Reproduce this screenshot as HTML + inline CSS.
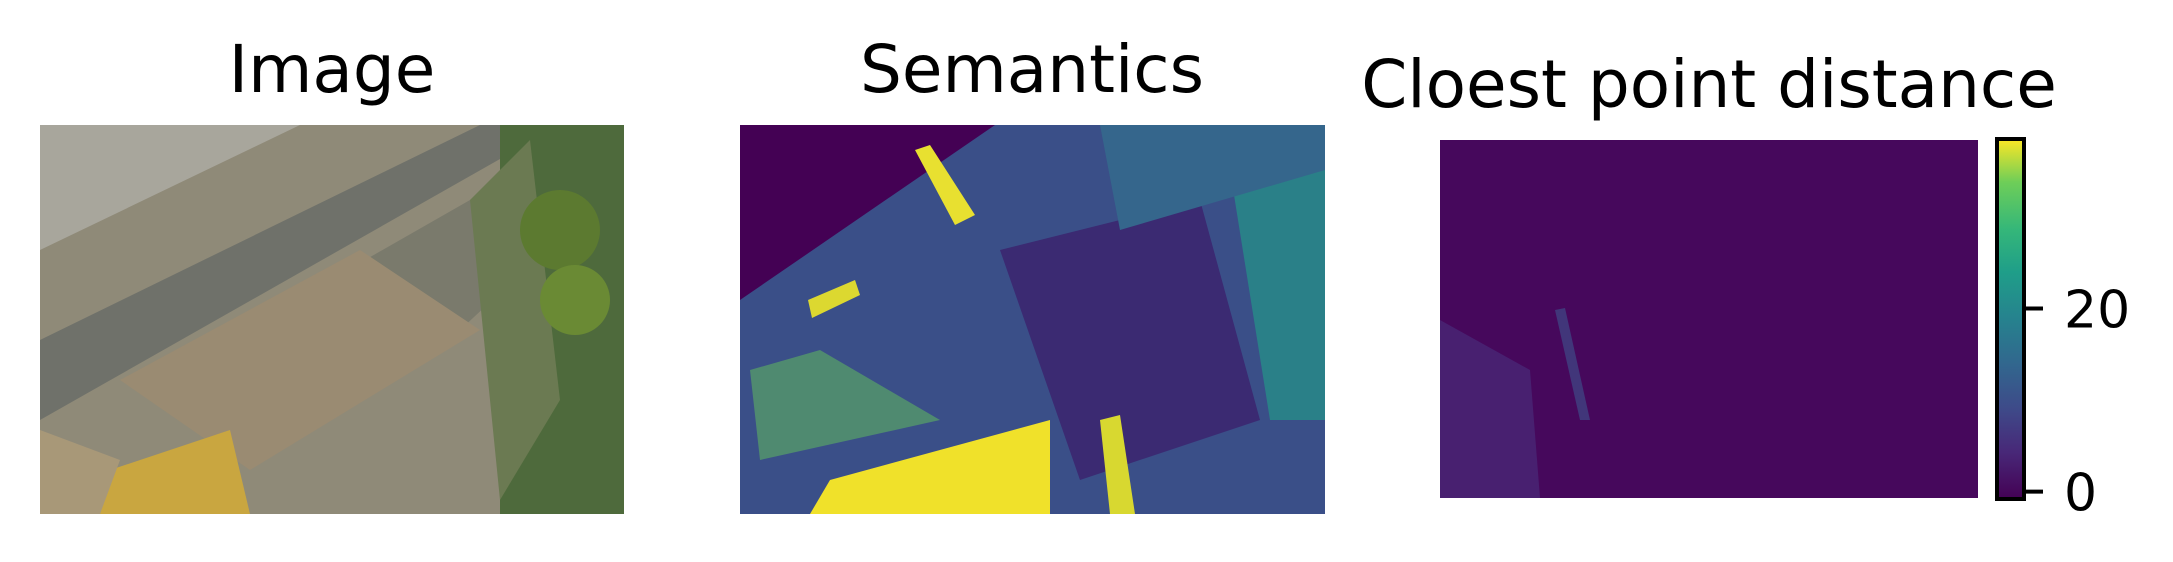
<!DOCTYPE html>
<html><head><meta charset="utf-8">
<style>
html,body{margin:0;padding:0;background:#fff;}
body{width:2173px;height:562px;position:relative;overflow:hidden;font-family:"Liberation Sans","DejaVu Sans",sans-serif;}
</style></head><body>
<svg width="2173" height="562" style="position:absolute;left:0;top:0">
<defs>
<linearGradient id="vir" x1="0" y1="1" x2="0" y2="0">
<stop offset="0" stop-color="#440154"/><stop offset="0.13" stop-color="#482878"/><stop offset="0.25" stop-color="#3e4a89"/><stop offset="0.38" stop-color="#31688e"/><stop offset="0.5" stop-color="#26828e"/><stop offset="0.63" stop-color="#1f9e89"/><stop offset="0.75" stop-color="#35b779"/><stop offset="0.88" stop-color="#6ece58"/><stop offset="1" stop-color="#fde725"/>
</linearGradient>
<clipPath id="c1"><rect x="40" y="125" width="584" height="389"/></clipPath>
<clipPath id="c2"><rect x="740" y="125" width="585" height="389"/></clipPath>
</defs>
<text x="332" y="92" text-anchor="middle" font-size="66" font-family="DejaVu Sans, Liberation Sans, sans-serif">Image</text>
<text x="1032" y="92" text-anchor="middle" font-size="66" font-family="DejaVu Sans, Liberation Sans, sans-serif">Semantics</text>
<text x="1709" y="107" text-anchor="middle" font-size="66" font-family="DejaVu Sans, Liberation Sans, sans-serif">Cloest point distance</text>
<g clip-path="url(#c1)">
<rect x="40" y="125" width="584" height="389" fill="#8f8a78"/>
<polygon points="40,125 300,125 40,250" fill="#a8a69c"/>
<polygon points="40,340 480,125 560,125 40,420" fill="#6f716a"/>
<polygon points="330,280 540,160 600,200 460,330" fill="#7a7a6c"/>
<polygon points="120,380 360,250 480,330 250,470" fill="#9a8b72"/>
<rect x="500" y="125" width="124" height="389" fill="#4e6a3c"/>
<polygon points="470,200 530,140 560,400 500,500" fill="#6b7a52"/>
<circle cx="560" cy="230" r="40" fill="#5c7a30"/>
<circle cx="575" cy="300" r="35" fill="#6a8a34"/>
<polygon points="100,514 110,470 230,430 250,514" fill="#c9a640"/>
<polygon points="40,514 40,430 120,460 100,514" fill="#a89878"/>
</g>
<g clip-path="url(#c2)">
<rect x="740" y="125" width="585" height="389" fill="#3a4f88"/>
<polygon points="740,125 995,125 740,300" fill="#440154"/>
<polygon points="1000,250 1200,200 1260,420 1080,480" fill="#3b2a72"/>
<polygon points="1230,170 1325,130 1325,420 1270,420" fill="#2a8088"/>
<polygon points="1100,125 1325,125 1325,170 1120,230" fill="#35668c"/>
<polygon points="915,150 930,145 975,215 955,225" fill="#e8e030"/>
<polygon points="808,300 855,280 860,295 812,318" fill="#dcd830"/>
<polygon points="810,514 830,480 1050,420 1050,514" fill="#f0e12a"/>
<polygon points="1100,420 1120,415 1135,514 1110,514" fill="#d8d830"/>
<polygon points="750,370 820,350 940,420 760,460" fill="#4f8a70"/>
</g>
<g>
<rect x="1440" y="140" width="538" height="358" fill="#46085c"/>
<polygon points="1440,320 1530,370 1540,498 1440,498" fill="#482070"/>
<polygon points="1555,310 1565,308 1590,420 1580,420" fill="#3f4a88" opacity="0.7"/>
</g>
<g id="cbar">
<rect x="1997" y="139" width="27" height="360" fill="url(#vir)" stroke="#000" stroke-width="4"/>
</g>
<g id="cticks"></g>
</svg>
<script>
const tickValues=[0,20];
const tickLabels=["0","20"];
const cmin=-0.8, cmax=38.5;
const y0=499, y1=139;
function yScale(v){return y0-(v-cmin)/(cmax-cmin)*(y0-y1);}
const g=document.getElementById('cticks');
const ns="http://www.w3.org/2000/svg";
tickValues.forEach((v,i)=>{
  const y=yScale(v);
  const l=document.createElementNS(ns,'line');
  l.setAttribute('x1',2026);l.setAttribute('x2',2043);l.setAttribute('y1',y);l.setAttribute('y2',y);
  l.setAttribute('stroke','#000');l.setAttribute('stroke-width','4');
  
  
  g.appendChild(l);
  const t=document.createElementNS(ns,'text');
  t.setAttribute('x',2064);t.setAttribute('y',y+19);
  t.setAttribute('font-size','52');t.setAttribute('font-family','DejaVu Sans, Liberation Sans, sans-serif');
  t.textContent=tickLabels[i];
  
  
  g.appendChild(t);
});
</script>
</body></html>
